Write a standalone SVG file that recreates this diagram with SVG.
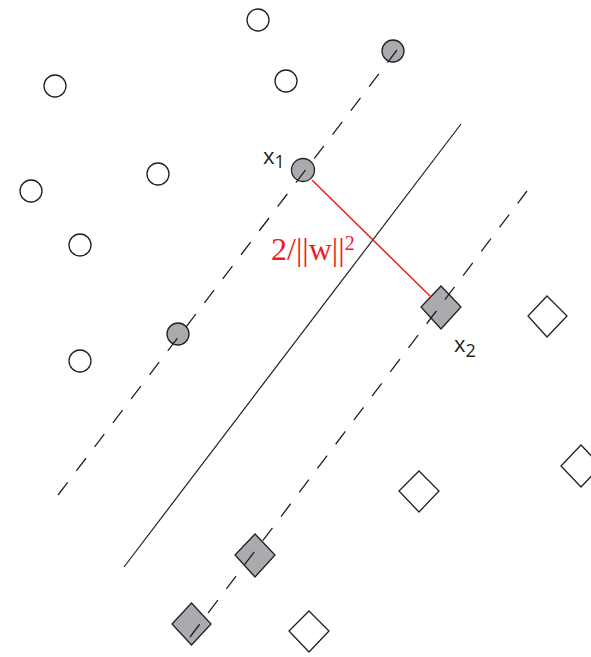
<svg xmlns="http://www.w3.org/2000/svg" width="591" height="657" viewBox="0 0 591 657">
<style>
.open{fill:#ffffff;stroke:#231f20;stroke-width:1.3}
.sv{fill:#a9abae;stroke:#231f20;stroke-width:1.3}
.dash{stroke:#231f20;stroke-width:1.3;fill:none;stroke-dasharray:16 14.2}
.solid{stroke:#231f20;stroke-width:1.2;fill:none}
.lbl{font-family:"Open Sans","DejaVu Sans",sans-serif;fill:#231f20}
</style>
<rect width="591" height="657" fill="#ffffff"/>
<g id="class1">
<circle id="c1" class="open" cx="258" cy="20" r="11"/>
<circle id="c2" class="open" cx="55" cy="86" r="11"/>
<circle id="c3" class="open" cx="286" cy="81" r="11"/>
<circle id="c4" class="open" cx="158" cy="174" r="11"/>
<circle id="c5" class="open" cx="31" cy="191" r="11"/>
<circle id="c6" class="open" cx="80" cy="245" r="11"/>
<circle id="c7" class="open" cx="80" cy="361" r="11"/>
<circle id="sv1" class="sv" cx="393" cy="51" r="11"/>
<circle id="x1" class="sv" cx="303" cy="170" r="11.5"/>
<circle id="sv3" class="sv" cx="178" cy="334" r="11"/>
</g>
<g id="class2">
<polygon id="d1" class="open" points="547,296 567,316 547,337 528,316"/>
<polygon id="d2" class="open" points="419,471 439,491 419,512 399,491"/>
<polygon id="d3" class="open" points="581,445 601,466 581,487 561,466"/>
<polygon id="d4" class="open" points="309,611 329,631 309,652 289,631"/>
<polygon id="x2" class="sv" points="441,286 461,307 441,329 421,307"/>
<polygon id="sv5" class="sv" points="255,534 275,555 255,577 235,555"/>
<polygon id="sv6" class="sv" points="191.5,603 211,624 191.5,645 172,624"/>
</g>
<g id="connectors">
<path class="dash" d="M58,495 L397,50"/>
<path class="solid" d="M124,567 L461,124"/>
<path class="dash" d="M190,637 L527,191"/>
<path d="M312,180 L431,297" stroke="#ed1c24" stroke-width="1.5" fill="none"/>
</g>
<g id="labels">
<text class="lbl" x="263" y="164" font-size="22">x<tspan font-size="18" dy="4">1</tspan></text>
<text class="lbl" x="454" y="352" font-size="22">x<tspan font-size="18" dy="5">2</tspan></text>
<text x="271" y="260" font-family="Liberation Serif,serif" font-size="32" fill="#ed1c24">2/||w||<tspan font-size="20" dy="-10">2</tspan></text>
</g>
</svg>
